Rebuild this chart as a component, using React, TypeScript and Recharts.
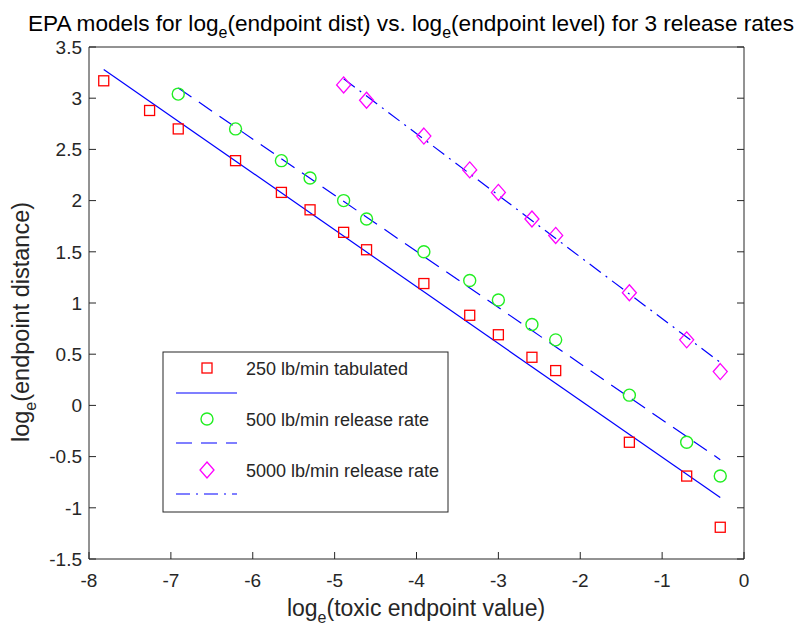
import React from 'react';
import { ComposedChart, Scatter, Line, XAxis, YAxis, Customized } from 'recharts';

const xTicks = [-8, -7, -6, -5, -4, -3, -2, -1, 0];
const yTicks = [-1.5, -1, -0.5, 0, 0.5, 1, 1.5, 2, 2.5, 3, 3.5];

const x250 = [-7.82, -7.26, -6.91, -6.21, -5.65, -5.3, -4.89, -4.61, -3.91, -3.35, -3.0, -2.59, -2.3, -1.4, -0.7, -0.29];
const y250 = [3.17, 2.88, 2.7, 2.39, 2.08, 1.91, 1.69, 1.52, 1.19, 0.88, 0.69, 0.47, 0.34, -0.36, -0.69, -1.19];

const x500 = [-6.91, -6.21, -5.65, -5.3, -4.89, -4.61, -3.91, -3.35, -3.0, -2.59, -2.3, -1.4, -0.7, -0.29];
const y500 = [3.04, 2.7, 2.39, 2.22, 2.0, 1.82, 1.5, 1.22, 1.03, 0.79, 0.64, 0.1, -0.36, -0.69];

const x5000 = [-4.89, -4.61, -3.91, -3.35, -3.0, -2.59, -2.3, -1.4, -0.7, -0.29];
const y5000 = [3.13, 2.98, 2.63, 2.3, 2.08, 1.82, 1.66, 1.1, 0.64, 0.33];

const fit250X = [-7.82, -0.29];
const fit250Y = [3.28, -0.9];
const fit500X = [-6.91, -0.29];
const fit500Y = [3.1, -0.53];
const fit5000X = [-4.89, -0.29];
const fit5000Y = [3.19, 0.42];

const legendLabels = ['250 lb/min tabulated', '500 lb/min release rate', '5000 lb/min release rate'];

const zip = (xs: number[], ys: number[]) => xs.map((x, i) => ({ x, y: ys[i] }));

const FONT = '"Liberation Sans", Arial, Helvetica, sans-serif';
const AX = '#262626';
const RED = '#ff0000';
const GREEN = '#22ee22';
const MAG = '#ff00ff';
const BLUE = '#0000ff';

const SquareShape = (p: any) => {
  const s = 10;
  return <rect x={p.cx - s / 2} y={p.cy - s / 2} width={s} height={s} fill="none" stroke={RED} strokeWidth={1.3} />;
};
const CircleShape = (p: any) => <circle cx={p.cx} cy={p.cy} r={6} fill="none" stroke={GREEN} strokeWidth={1.4} />;
const DiamondShape = (p: any) => {
  const w = 7, h = 8;
  return (
    <path
      d={`M${p.cx},${p.cy - h} L${p.cx + w},${p.cy} L${p.cx},${p.cy + h} L${p.cx - w},${p.cy} Z`}
      fill="none"
      stroke={MAG}
      strokeWidth={1.3}
    />
  );
};

const DASH = '16 9';
const DASHDOT = '14 6 2 6';

const Overlay = () => {
  const lx0 = 163, ly0 = 352, lw = 285, lh = 160;
  const mx = 207, tx = 246;
  const rows = [368, 419, 470];
  const lineRows = [393, 443, 494];
  const dashes = [undefined, DASH, DASHDOT];
  return (
    <g fontFamily={FONT}>
      <text x={411} y={31} textAnchor="middle" fontSize={22.6} fill="#000">
        EPA models for log<tspan fontSize={16} dy={7}>e</tspan>
        <tspan dy={-7}>(endpoint dist) vs. log</tspan>
        <tspan fontSize={16} dy={7}>e</tspan>
        <tspan dy={-7}>(endpoint level) for 3 release rates</tspan>
      </text>
      <text x={416} y={616} textAnchor="middle" fontSize={23} fill={AX}>
        log<tspan fontSize={16} dy={7}>e</tspan>
        <tspan dy={-7}>(toxic endpoint value)</tspan>
      </text>
      <text x={29} y={322} textAnchor="middle" fontSize={23.5} fill={AX} transform="rotate(-90 29 322)">
        log<tspan fontSize={16} dy={7}>e</tspan>
        <tspan dy={-7}>(endpoint distance)</tspan>
      </text>
      <rect x={lx0} y={ly0} width={lw} height={lh} fill="#fff" stroke={AX} strokeWidth={1} />
      <SquareShape cx={mx} cy={rows[0]} />
      <CircleShape cx={mx} cy={rows[1]} />
      <DiamondShape cx={mx} cy={rows[2]} />
      {legendLabels.map((t, i) => (
        <text key={t} x={tx} y={rows[i] + 6.5} fontSize={18} fill={AX}>
          {t}
        </text>
      ))}
      {lineRows.map((y, i) => (
        <line key={i} x1={176} x2={237} y1={y} y2={y} stroke={BLUE} strokeWidth={1.2} strokeDasharray={dashes[i]} />
      ))}
    </g>
  );
};

export default function App() {
  return (
    <div style={{ position: 'absolute', left: 0, top: 0, width: 806, height: 626, background: '#fff' }}>
      <ComposedChart width={806} height={626} margin={{ top: 46, right: 61, bottom: 7, left: 29 }}>
        <XAxis
          xAxisId="b"
          dataKey="x"
          type="number"
          domain={[-8, 0]}
          ticks={xTicks}
          allowDataOverflow
          height={60}
          tickSize={-7}
          tickMargin={21.5}
          stroke={AX}
          tick={{ fill: AX, fontSize: 19, fontFamily: FONT }}
          axisLine={{ stroke: AX, strokeWidth: 1 }}
          tickLine={{ stroke: AX }}
        />
        <XAxis
          xAxisId="t"
          orientation="top"
          type="number"
          domain={[-8, 0]}
          ticks={xTicks}
          allowDataOverflow
          height={1}
          tickSize={-7}
          tick={() => <g />}
          axisLine={{ stroke: AX, strokeWidth: 1 }}
          tickLine={{ stroke: AX }}
        />
        <YAxis
          yAxisId="l"
          type="number"
          domain={[-1.5, 3.5]}
          ticks={yTicks}
          allowDataOverflow
          width={60}
          tickSize={-7}
          tickMargin={14}
          tick={{ fill: AX, fontSize: 19, fontFamily: FONT }}
          axisLine={{ stroke: AX, strokeWidth: 1 }}
          tickLine={{ stroke: AX }}
        />
        <YAxis
          yAxisId="r"
          orientation="right"
          type="number"
          domain={[-1.5, 3.5]}
          ticks={yTicks}
          allowDataOverflow
          width={1}
          tickSize={-7}
          tick={() => <g />}
          axisLine={{ stroke: AX, strokeWidth: 1 }}
          tickLine={{ stroke: AX }}
        />
        <Line xAxisId="b" yAxisId="l" data={zip(fit250X, fit250Y)} dataKey="y" stroke={BLUE} strokeWidth={1.2} dot={false} isAnimationActive={false} />
        <Line xAxisId="b" yAxisId="l" data={zip(fit500X, fit500Y)} dataKey="y" stroke={BLUE} strokeWidth={1.2} strokeDasharray={DASH} dot={false} isAnimationActive={false} />
        <Line xAxisId="b" yAxisId="l" data={zip(fit5000X, fit5000Y)} dataKey="y" stroke={BLUE} strokeWidth={1.2} strokeDasharray={DASHDOT} dot={false} isAnimationActive={false} />
        <Scatter xAxisId="b" yAxisId="l" data={zip(x250, y250)} dataKey="y" shape={SquareShape} isAnimationActive={false} />
        <Scatter xAxisId="b" yAxisId="l" data={zip(x500, y500)} dataKey="y" shape={CircleShape} isAnimationActive={false} />
        <Scatter xAxisId="b" yAxisId="l" data={zip(x5000, y5000)} dataKey="y" shape={DiamondShape} isAnimationActive={false} />
        <Customized component={Overlay} />
      </ComposedChart>
    </div>
  );
}
